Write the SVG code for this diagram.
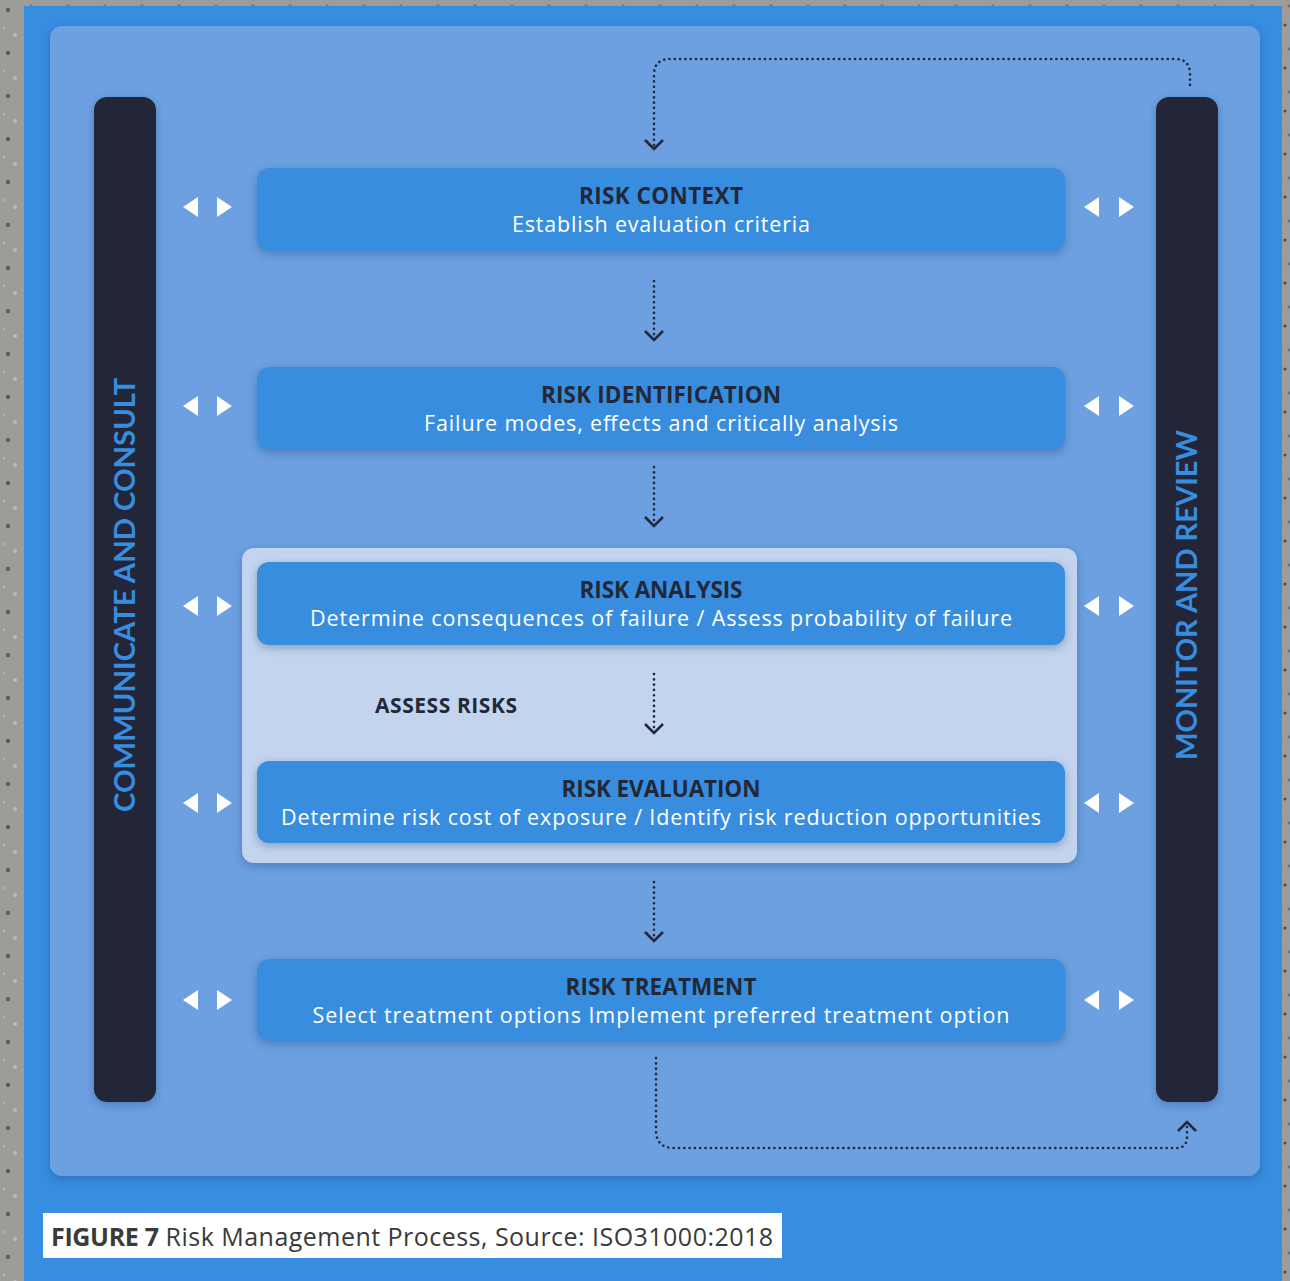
<svg xmlns="http://www.w3.org/2000/svg" width="1290" height="1281" viewBox="0 0 1290 1281">
<defs>
<style>
.box{fill:#378ddf}
.bar{fill:#222838}
.title{font-family:"Open Sans",Lato,sans-serif;font-weight:700;font-size:22.5px;fill:#222838;text-anchor:middle}
.sub{font-family:"Open Sans",Lato,sans-serif;font-size:21.5px;fill:#ffffff;text-anchor:middle}
.vert{font-family:Lato,"Noto Sans",sans-serif;font-weight:700;font-size:29px;fill:#378ddf;text-anchor:middle}
.tri{fill:#ffffff}
.dot{fill:none;stroke:#222838;stroke-width:2.6;stroke-dasharray:0.1 5.2;stroke-linecap:round}
.head{fill:none;stroke:#222838;stroke-width:2.6}
</style>
<filter id="sh" x="-10%" y="-20%" width="120%" height="150%">
<feDropShadow dx="0" dy="3" stdDeviation="4" flood-color="#1a3a6a" flood-opacity="0.35"/>
</filter>
<pattern id="tex" width="37" height="43" patternUnits="userSpaceOnUse">
<rect width="37" height="43" fill="#9d9c99"/>
<circle cx="8" cy="10" r="2.2" fill="#5e5d5a"/>
<circle cx="27" cy="25" r="1.6" fill="#4f4e4b"/>
<circle cx="15" cy="35" r="2" fill="#bdbcb8"/>
<circle cx="31" cy="6" r="1.4" fill="#72716d"/>
<circle cx="4" cy="28" r="1.2" fill="#b5b4b0"/>
</pattern>
</defs>
<rect width="1290" height="1281" fill="url(#tex)"/>
<rect x="24" y="6" width="1258" height="1275" fill="#378ddf"/>
<rect x="50" y="26" width="1210" height="1150" rx="12" fill="#6ca0e0" filter="url(#sh)"/>

<g id="communicate">
<rect class="bar" x="94" y="97" width="62" height="1005" rx="13" filter="url(#sh)"/>
<text class="vert" transform="translate(135,595) rotate(-90)" textLength="434" lengthAdjust="spacingAndGlyphs">COMMUNICATE AND CONSULT</text>
</g>
<g id="monitor">
<rect class="bar" x="1156" y="97" width="62" height="1005" rx="13" filter="url(#sh)"/>
<text class="vert" transform="translate(1197,595) rotate(-90)" textLength="330" lengthAdjust="spacingAndGlyphs">MONITOR AND REVIEW</text>
</g>

<g id="assess">
<rect x="242" y="548" width="835" height="315" rx="12" fill="#c3d4ee" filter="url(#sh)"/>
<text class="title" x="446" y="713" style="font-size:21px" textLength="142">ASSESS RISKS</text>
</g>

<g id="risk-context">
<rect class="box" x="257" y="168" width="808" height="83" rx="12" filter="url(#sh)"/>
<text class="title" x="661" y="204" textLength="164">RISK CONTEXT</text>
<text class="sub" x="661" y="232" textLength="298">Establish evaluation criteria</text>
</g>
<g id="risk-identification">
<rect class="box" x="257" y="367" width="808" height="83" rx="12" filter="url(#sh)"/>
<text class="title" x="661" y="403" textLength="240">RISK IDENTIFICATION</text>
<text class="sub" x="661" y="431" textLength="474">Failure modes, effects and critically analysis</text>
</g>
<g id="risk-analysis">
<rect class="box" x="257" y="562" width="808" height="83" rx="12" filter="url(#sh)"/>
<text class="title" x="661" y="598" textLength="163">RISK ANALYSIS</text>
<text class="sub" x="661" y="626" textLength="702">Determine consequences of failure / Assess probability of failure</text>
</g>
<g id="risk-evaluation">
<rect class="box" x="257" y="761" width="808" height="82" rx="12" filter="url(#sh)"/>
<text class="title" x="661" y="797" textLength="199">RISK EVALUATION</text>
<text class="sub" x="661" y="825" textLength="760">Determine risk cost of exposure / Identify risk reduction opportunities</text>
</g>
<g id="risk-treatment">
<rect class="box" x="257" y="959" width="808" height="82" rx="12" filter="url(#sh)"/>
<text class="title" x="661" y="995" textLength="191">RISK TREATMENT</text>
<text class="sub" x="661" y="1023" textLength="697">Select treatment options Implement preferred treatment option</text>
</g>

<g id="side-arrows">
<g id="ar1">
<polygon class="tri" points="198,197 198,217 183,207"/><polygon class="tri" points="217,197 217,217 232,207"/>
<polygon class="tri" points="1099,197 1099,217 1084,207"/><polygon class="tri" points="1119,197 1119,217 1134,207"/>
</g>
<g id="ar2" transform="translate(0,199)">
<polygon class="tri" points="198,197 198,217 183,207"/><polygon class="tri" points="217,197 217,217 232,207"/>
<polygon class="tri" points="1099,197 1099,217 1084,207"/><polygon class="tri" points="1119,197 1119,217 1134,207"/>
</g>
<g id="ar3" transform="translate(0,399)">
<polygon class="tri" points="198,197 198,217 183,207"/><polygon class="tri" points="217,197 217,217 232,207"/>
<polygon class="tri" points="1099,197 1099,217 1084,207"/><polygon class="tri" points="1119,197 1119,217 1134,207"/>
</g>
<g id="ar4" transform="translate(0,596)">
<polygon class="tri" points="198,197 198,217 183,207"/><polygon class="tri" points="217,197 217,217 232,207"/>
<polygon class="tri" points="1099,197 1099,217 1084,207"/><polygon class="tri" points="1119,197 1119,217 1134,207"/>
</g>
<g id="ar5" transform="translate(0,793)">
<polygon class="tri" points="198,197 198,217 183,207"/><polygon class="tri" points="217,197 217,217 232,207"/>
<polygon class="tri" points="1099,197 1099,217 1084,207"/><polygon class="tri" points="1119,197 1119,217 1134,207"/>
</g>
</g>

<g id="connectors">
<path class="dot" d="M1190,85 V74 Q1190,59 1175,59 H670 Q654,59 654,75 V148"/>
<polyline class="head" points="645,140 654,149 663,140"/>
<path class="dot" d="M654,281 V338"/>
<polyline class="head" points="645,331 654,340 663,331"/>
<path class="dot" d="M654,467 V524"/>
<polyline class="head" points="645,517 654,526 663,517"/>
<path class="dot" d="M654,674 V731"/>
<polyline class="head" points="645,724 654,733 663,724"/>
<path class="dot" d="M654,882 V939"/>
<polyline class="head" points="645,932 654,941 663,932"/>
<path class="dot" d="M656,1058 V1130 Q656,1148 674,1148 H1176 Q1187,1148 1187,1137 V1124"/>
<polyline class="head" points="1178,1131 1187,1122 1196,1131"/>
</g>

<g id="caption">
<rect x="43" y="1213" width="739" height="45" fill="#ffffff"/>
<text x="51" y="1246" font-family="'Open Sans',Lato,sans-serif" font-size="25" fill="#3a3a3a" textLength="722"><tspan font-weight="700" letter-spacing="-0.8">FIGURE 7</tspan> Risk Management Process, Source: ISO31000:2018</text>
</g>
</svg>
